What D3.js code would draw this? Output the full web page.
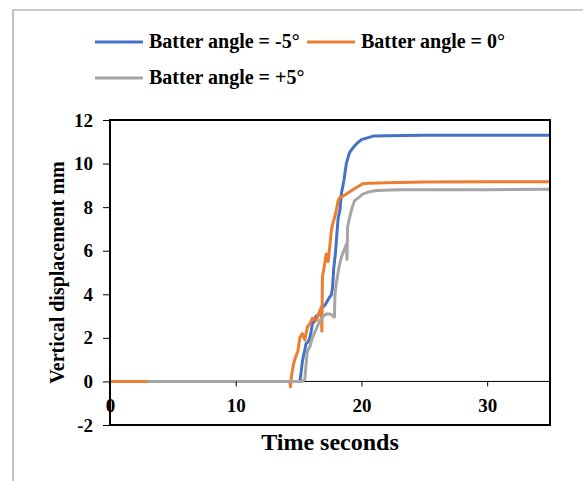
<!DOCTYPE html>
<html><head><meta charset="utf-8">
<script src="https://cdn.jsdelivr.net/npm/d3@7"></script>
<style>body{margin:0;background:#fff}svg{display:block}</style>
</head><body>
<svg id="c" width="583" height="481"></svg>
<script>
const seriesNames = ["Batter angle = -5°", "Batter angle = 0°", "Batter angle = +5°"];
const seriesColors = ["#4472C4", "#ED7D31", "#A5A5A5"];
const xTicks = [0, 10, 20, 30];
const yTicks = [-2, 0, 2, 4, 6, 8, 10, 12];

const blueT = [0, 15.1, 15.2, 15.3, 15.4, 15.5, 15.6, 15.75, 15.9, 16.0, 16.1, 16.25, 16.4, 16.6, 16.9, 17.1, 17.3, 17.5, 17.6, 17.7, 17.8, 17.95, 18.05, 18.15, 18.3, 18.4, 18.6, 18.8, 19.05, 19.3, 19.6, 20.0, 20.6, 21.0, 22, 25, 30, 35];
const blueV = [0, 0, 0.4, 0.9, 1.2, 1.45, 1.75, 1.8, 2.0, 2.3, 2.65, 2.75, 3.0, 3.05, 3.4, 3.5, 3.7, 3.9, 3.95, 4.3, 5.2, 6.0, 6.8, 7.5, 7.9, 8.6, 9.2, 10.0, 10.5, 10.7, 10.9, 11.1, 11.2, 11.27, 11.28, 11.3, 11.3, 11.3];

const orangeT = [0, 14.3, 14.35, 14.45, 14.6, 14.75, 14.95, 15.1, 15.3, 15.5, 15.7, 15.9, 16.1, 16.4, 16.6, 16.8, 16.85, 16.9, 17.05, 17.2, 17.35, 17.5, 17.6, 17.7, 17.85, 18.0, 18.15, 18.3, 18.5, 18.8, 19.2, 19.6, 20.1, 20.6, 22, 25, 30, 35];
const orangeV = [0, 0, -0.25, 0.3, 0.8, 1.1, 1.4, 2.0, 2.2, 1.9, 2.5, 2.65, 2.9, 2.8, 3.1, 3.4, 2.3, 4.8, 5.3, 5.85, 5.5, 6.3, 6.9, 7.2, 7.5, 7.85, 8.3, 8.45, 8.5, 8.6, 8.75, 8.9, 9.07, 9.1, 9.12, 9.15, 9.17, 9.17];

const grayT = [3, 15.3, 15.5, 15.6, 15.7, 15.9, 16.1, 16.4, 16.7, 17.0, 17.2, 17.5, 17.85, 17.9, 18.0, 18.2, 18.4, 18.6, 18.8, 18.85, 18.9, 19.05, 19.2, 19.45, 19.8, 20.1, 20.6, 21.2, 23, 26, 30, 35];
const grayV = [0, 0, 0.1, 0.8, 1.4, 1.6, 2.0, 2.4, 2.8, 3.0, 3.1, 3.1, 2.95, 4.0, 4.5, 5.2, 5.7, 6.0, 6.3, 5.6, 7.1, 7.5, 7.85, 8.3, 8.45, 8.6, 8.7, 8.76, 8.8, 8.8, 8.8, 8.82];

const series = [
  {name: seriesNames[0], color: seriesColors[0], pts: blueT.map((t,i)=>[t, blueV[i]])},
  {name: seriesNames[1], color: seriesColors[1], pts: orangeT.map((t,i)=>[t, orangeV[i]])},
  {name: seriesNames[2], color: seriesColors[2], pts: grayT.map((t,i)=>[t, grayV[i]])}
];

const svg = d3.select("#c");
const font = "'Liberation Serif','Times New Roman',serif";
const L = 110, R = 550, T = 120, B = 425;
const x = d3.scaleLinear().domain([0, 35]).range([L, R]);
const y = d3.scaleLinear().domain([-2, 12]).range([B, T]);

// outer border
svg.append("path").attr("d", `M13,481 V10 H583`).attr("fill","none").attr("stroke","#999").attr("stroke-width",1.2);

// zero line
svg.append("line").attr("x1", L).attr("x2", R).attr("y1", y(0)).attr("y2", y(0)).attr("stroke","#000").attr("stroke-width",1);

// lines
const line = d3.line().x(d=>x(d[0])).y(d=>y(d[1]));
series.forEach(s => {
  svg.append("path").datum(s.pts).attr("d", line).attr("fill","none")
    .attr("stroke", s.color).attr("stroke-width", 3).attr("stroke-linejoin","round");
});

// frame
svg.append("rect").attr("x", L).attr("y", T).attr("width", R-L).attr("height", B-T)
  .attr("fill","none").attr("stroke","#000").attr("stroke-width",2);

// y axis
const yAxis = d3.axisLeft(y).tickValues(yTicks).tickSize(7).tickPadding(10).tickFormat(d => String(d));
const gy = svg.append("g").attr("transform", `translate(${L},0)`).call(yAxis);
gy.select(".domain").remove();
gy.selectAll("line").attr("stroke","#000");
gy.selectAll("text").attr("font-family", font).attr("font-weight","bold").attr("font-size",19).attr("fill","#000");

// x axis at y=0
const xAxis = d3.axisBottom(x).tickValues(xTicks).tickSize(5).tickPadding(12).tickFormat(d => String(d));
const gx = svg.append("g").attr("transform", `translate(0,${y(0)})`).call(xAxis);
gx.select(".domain").remove();
gx.selectAll("line").attr("stroke","#000");
gx.selectAll("text").attr("font-family", font).attr("font-weight","bold").attr("font-size",19).attr("fill","#000");

// axis titles
svg.append("text").attr("x", (L+R)/2).attr("y", 450).attr("text-anchor","middle")
  .attr("font-family", font).attr("font-weight","bold").attr("font-size",24).text("Time seconds");
svg.append("text").attr("transform", `translate(64,${(T+B)/2}) rotate(-90)`).attr("text-anchor","middle")
  .attr("font-family", font).attr("font-weight","bold").attr("font-size",20).text("Vertical displacement mm");

// legend
const legendPos = [[95, 42], [307, 42], [95, 78]];
series.forEach((s, i) => {
  const [lx, ly] = legendPos[i];
  svg.append("line").attr("x1", lx).attr("x2", lx+48).attr("y1", ly).attr("y2", ly)
    .attr("stroke", s.color).attr("stroke-width", 3);
  svg.append("text").attr("x", lx+54).attr("y", ly+6).attr("font-family", font).attr("font-weight","bold")
    .attr("font-size",20).attr("fill","#000").text(s.name);
});
</script>
</body></html>
